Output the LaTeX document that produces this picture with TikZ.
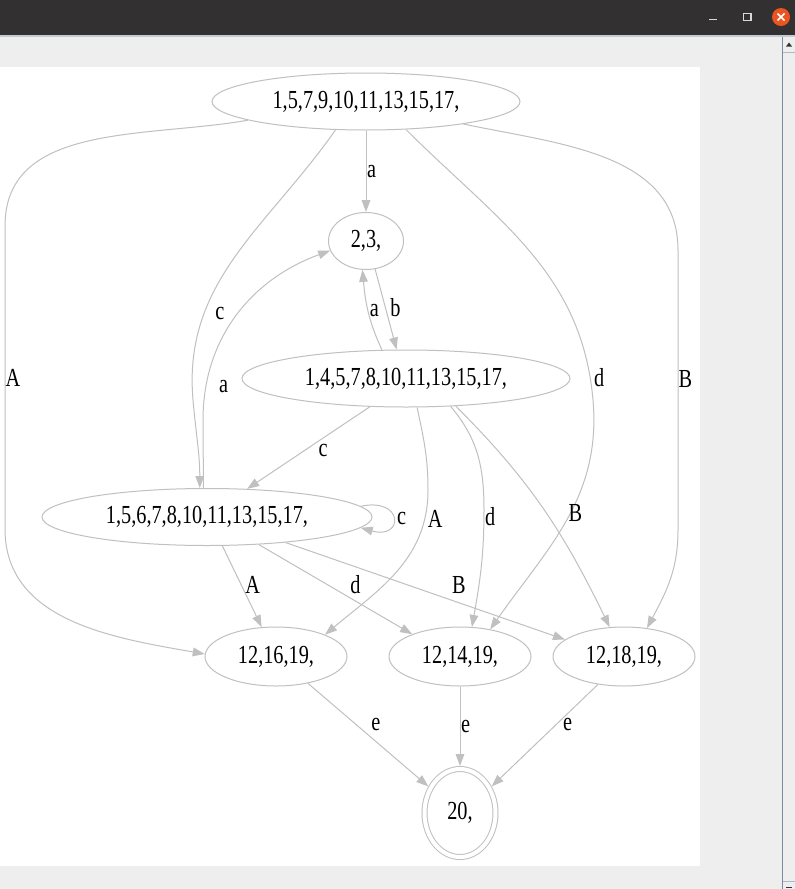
\documentclass[tikz,border=0pt]{standalone}
\usepackage{fontspec}
\setmainfont[FakeStretch=0.78]{Liberation Serif}
\usetikzlibrary{shapes.geometric,arrows.meta}
\definecolor{linegray}{RGB}{192,192,192}
\definecolor{barDark}{RGB}{50,48,49}
\definecolor{paneGray}{RGB}{238,238,238}
\definecolor{closeOrange}{RGB}{233,84,32}
\definecolor{scrollLine}{RGB}{122,138,160}
\begin{document}
\begin{tikzpicture}[x=0.75pt,y=0.75pt,
  font=\fontsize{19.5}{22}\selectfont,
  state/.style={ellipse,draw=linegray,line width=.75pt,inner sep=0pt,minimum height=42.75pt},
  edge/.style={linegray,line width=.75pt,-{Triangle[length=9pt,width=6.5pt]}},
  lbl/.style={text=black,inner sep=0pt}]
% window frame
\useasboundingbox (0,0) rectangle (795,-889);
\fill[barDark] (0,0) rectangle (795,-35);
\fill[scrollLine!45] (0,-35) rectangle (795,-37);
\fill[paneGray] (0,-37) rectangle (795,-889);
\fill[white] (0,-67) rectangle (700,-866);
\draw[white!85!black,line width=1.1pt] (709,-19.5) -- (717,-19.5);
\draw[white!85!black,line width=1pt] (743.5,-13.5) rectangle (751,-20.5);
\fill[closeOrange] (781,-17) circle (9);
\draw[white,line width=1.1pt] (777.5,-13.5) -- (784.5,-20.5) (777.5,-20.5) -- (784.5,-13.5);
\draw[scrollLine] (782.5,-37) -- (782.5,-889);
\draw[scrollLine!60] (783,-52.5) -- (795,-52.5) (783,-881) -- (795,-881);
\fill[black!80] (786,-46.5) -- (792,-46.5) -- (789,-42.5) -- cycle;
\fill[black!80] (786,-886.5) rectangle (792,-888);
% states
\node[state,minimum width=231pt] (s0) at (366,-101.5) {1,5,7,9,10,11,13,15,17,};
\node[state,minimum width=56.25pt] (s1) at (366,-241) {2,3,};
\node[state,minimum width=246pt] (s2) at (406,-378.5) {1,4,5,7,8,10,11,13,15,17,};
\node[state,minimum width=247.5pt] (s3) at (207,-517) {1,5,6,7,8,10,11,13,15,17,};
\node[state,minimum width=106.5pt,minimum height=44.25pt] (s4) at (276,-656.5) {12,16,19,};
\node[state,minimum width=106.5pt,minimum height=44.25pt] (s5) at (460,-656.5) {12,14,19,};
\node[state,minimum width=106.5pt,minimum height=44.25pt] (s6) at (624,-656.5) {12,18,19,};
\node[state,double=white,double distance=3pt,minimum width=53.25pt,minimum height=66pt,outer sep=2.25pt] (s7) at (460,-813) {20,};
% transitions
\path[edge,draw] (s0.270) -- node[lbl,right=.5pt]{a} (s1.90);
\path[edge,draw] (s0.189) to[out=190,in=90] (5,-226) -- node[lbl,right]{A} (5,-529)
  to[out=-90,in=170] (s4.178);
\path[edge,draw] (s0.223) to[out=235,in=95] node[lbl,pos=.72,right=8pt]{c} (193,-400)
  to[out=-85,in=90] (s3.104);
\path[edge,draw] (s0.325) to[out=-45,in=95] node[lbl,pos=.94,right=2.5pt]{d} (593,-400)
  to[out=-85,in=55] (s5.42);
\path[edge,draw] (s0.347) to[out=-12,in=90] (678,-250) -- node[lbl,pos=.46,right]{B} (678,-530)
  to[out=-90,in=62] (s6.51);
\path[edge,draw] (s1.288) -- node[lbl,pos=.48,right=3.3pt]{b} (s2.108);
\path[edge,draw] (s2.130) to[out=115,in=-85] node[lbl,right=1pt]{a} (s1.263);
\path[edge,draw] (s3.97) -- (203,-420)
  to[out=90,in=200] node[lbl,pos=.14,right=9.5pt]{a} (s1.195);
\path[edge,draw] (s2.218) -- node[lbl,pos=.53,right=10pt]{c} (s3.35);
% loop on s3
\path[edge,draw] (s3.4) .. controls (404,-497) and (404,-540) .. (s3.-4)
  node[lbl,pos=.5,right=2.5pt]{c};
\path[edge,draw] (s2.291) to[out=-78,in=90] (428,-490)
  to[out=-90,in=40] node[lbl,pos=.15,right=2pt]{A} (s4.24);
\path[edge,draw] (s2.328) to[out=-50,in=90] (484,-510)
  to[out=-90,in=80] node[lbl,pos=.05,right=.5pt]{d} (s5.68);
\path[edge,draw] (s2.331) to[out=-45,in=116] node[lbl,pos=.52,right=16.5pt]{B} (s6.116);
\path[edge,draw] (s3.298) -- node[lbl,pos=.48,right=2.7pt]{A} (s4.116);
\path[edge,draw] (s3.332) -- node[lbl,pos=.63,above=5.2pt]{d} (s5.155);
\path[edge,draw] (s3.342) -- node[lbl,pos=.62,above=6.7pt]{B} (s6.164);
% into the final state
\path[edge,draw] (s4.320) -- node[lbl,pos=.4,right=11pt]{e} (s7.140);
\path[edge,draw] (s5.270) -- node[lbl,right=.5pt]{e} (s7.90);
\path[edge,draw] (s6.227) -- node[lbl,pos=.39,right=4.5pt]{e} (s7.40);
\end{tikzpicture}
\end{document}
